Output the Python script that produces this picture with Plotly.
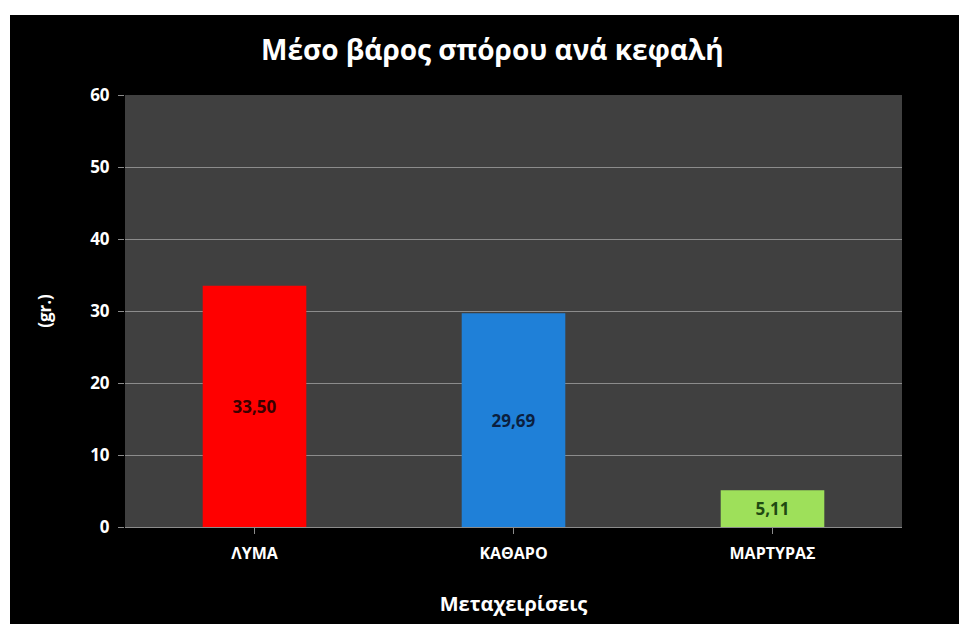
import plotly.graph_objects as go

categories = ["ΛΥΜΑ", "ΚΑΘΑΡΟ", "ΜΑΡΤΥΡΑΣ"]
values = [33.50, 29.69, 5.11]
labels = ["33,50", "29,69", "5,11"]
bar_colors = ["#ff0000", "#1f80d8", "#9ee05a"]
label_colors = ["#3a0000", "#0b1f3f", "#1f4a12"]
y_ticks = [0, 10, 20, 30, 40, 50, 60]

# page body has an 8px margin, so the figure is sized/placed to compensate
W, H = 959, 616
L, R, T, B = 117, 65, 87, 97
pw, ph = W - L - R, H - T - B

fig = go.Figure()
fig.add_trace(go.Bar(
    x=categories, y=values, text=labels, width=0.4,
    marker=dict(color=bar_colors, line=dict(width=0)),
    textposition="inside", insidetextanchor="middle",
    textfont=dict(color=label_colors, size=17, family="Open Sans"),
    texttemplate="<b>%{text}</b>", textangle=0,
))

# black panel with white border, then the grey plot area
fig.add_shape(type="rect", xref="paper", yref="paper", layer="below",
              x0=(2 - L) / pw, x1=(W + 5 - L) / pw,
              y0=-(B + 5) / ph, y1=(H - B - 7) / ph,
              fillcolor="black", line=dict(width=0))
fig.add_shape(type="rect", xref="paper", yref="paper", layer="below",
              x0=0, x1=1, y0=0, y1=1,
              fillcolor="#404040", line=dict(width=0))

fig.update_layout(
    width=W, height=H,
    margin=dict(l=L, r=R, t=T, b=B),
    paper_bgcolor="white", plot_bgcolor="rgba(0,0,0,0)",
    showlegend=False,
    font=dict(family="Open Sans", color="white"),
    title=dict(text="<b>Μέσο βάρος σπόρου ανά κεφαλή</b>", x=0.505, xanchor="center",
               y=1 - 42 / H, yanchor="middle", font=dict(size=28, color="white")),
)
fig.update_yaxes(range=[0, 60], gridcolor="#8c8c8c", gridwidth=1,
                 tickvals=y_ticks, ticktext=["<b>%d</b>" % v for v in y_ticks],
                 ticks="outside", ticklen=6, tickcolor="#8c8c8c",
                 tickfont=dict(size=17, color="white"), ticklabelstandoff=5,
                 zeroline=False, showline=False,
                 title=dict(text="<b>(gr.)</b>", font=dict(size=17, color="white"), standoff=34))
fig.update_xaxes(showgrid=False, showline=True, linecolor="#8c8c8c",
                 ticks="outside", ticklen=6, tickcolor="#8c8c8c",
                 tickfont=dict(size=16, color="white"), ticklabelstandoff=6,
                 tickvals=categories, ticktext=["<b>%s</b>" % c for c in categories],
                 title=dict(text="<b>Μεταχειρίσεις</b>", font=dict(size=20, color="white"), standoff=33))

fig.write_html("out.html")
